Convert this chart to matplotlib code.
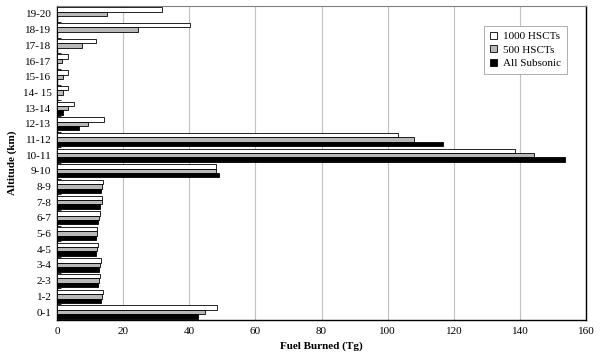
import numpy as np
import matplotlib.pyplot as plt

plt.rcParams['font.family'] = ['Liberation Serif', 'DejaVu Serif']

altitudes = ["0-1", "1-2", "2-3", "3-4", "4-5", "5-6", "6-7", "7-8", "8-9", "9-10",
             "10-11", "11-12", "12-13", "13-14", "14- 15", "15-16", "16-17", "17-18",
             "18-19", "19-20"]
hsct_1000 = [48.4, 13.8, 13.1, 13.4, 12.5, 12.2, 13.1, 13.7, 13.8, 48.1,
             138.5, 103.1, 14.2, 5.1, 3.4, 3.4, 3.4, 11.7, 40.3, 31.7]
hsct_500 = [44.8, 13.6, 12.8, 13.1, 12.0, 12.0, 12.8, 13.5, 13.5, 48.1,
            144.1, 107.9, 9.3, 3.4, 1.9, 1.9, 1.6, 7.7, 24.4, 15.2]
subsonic = [42.7, 13.4, 12.4, 12.8, 11.9, 11.7, 12.5, 13.1, 13.4, 49.1,
            153.5, 116.8, 6.6, 1.9, 0.0, 0.0, 0.0, 0.0, 0.0, 0.0]

fig = plt.figure(figsize=(6, 3.61), dpi=100)
ax = fig.add_axes([0.095, 0.114, 0.882, 0.869])

y = np.arange(len(altitudes))
h = 0.28
ax.barh(y + h, hsct_1000, height=h, color='white', edgecolor='black', linewidth=0.6, label='1000 HSCTs', zorder=3)
ax.barh(y, hsct_500, height=h, color='#b8b8b8', edgecolor='black', linewidth=0.6, label='500 HSCTs', zorder=3)
ax.barh(y - h, subsonic, height=h, color='black', edgecolor='black', linewidth=0.6, label='All Subsonic', zorder=3)

ax.set_xlim(0, 160)
ax.set_ylim(-0.5, len(altitudes) - 0.5)
ax.set_xticks(np.arange(0, 161, 20))
ax.set_yticks(y)
ax.set_yticklabels(altitudes)
ax.set_yticks(np.arange(-0.5, len(altitudes), 1), minor=True)
ax.tick_params(axis='y', which='major', length=0, labelsize=8, pad=4)
ax.tick_params(axis='y', which='minor', length=3, direction='in')
ax.tick_params(axis='x', length=0, labelsize=8, pad=5)
ax.grid(axis='x', color='#c0c0c0', linewidth=0.8, zorder=0)

ax.spines['top'].set_color('#808080')
for s in ['left', 'bottom', 'right']:
    ax.spines[s].set_linewidth(1.0)

ax.set_xlabel('Fuel Burned (Tg)', fontsize=8, fontweight='bold')
ax.set_ylabel('Altitude (km)', fontsize=8, fontweight='bold')

leg = ax.legend(loc='upper right', bbox_to_anchor=(0.975, 0.955), fontsize=8, frameon=True,
                fancybox=False, edgecolor='#a0a0a0', framealpha=1, handlelength=0.6,
                handleheight=0.6, handletextpad=0.6, borderpad=0.55, labelspacing=0.35)
leg.get_frame().set_linewidth(0.6)

fig.savefig('out.png', dpi=100)
